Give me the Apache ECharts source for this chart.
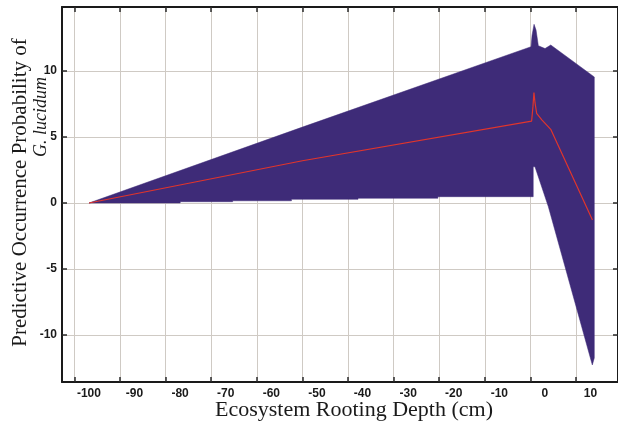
<!DOCTYPE html>
<html><head><meta charset="utf-8">
<script src="https://cdn.jsdelivr.net/npm/echarts@6/dist/echarts.min.js"></script>
<style>html,body{margin:0;padding:0;background:#fff}#c{width:618px;height:428px}</style>
</head><body><div id="c"></div>
<script>
// Tick labels
const xTicks = [-100, -90, -80, -70, -60, -50, -40, -30, -20, -10, 0, 10];
const yTicks = [-10, -5, 0, 5, 10];

// Upper boundary of the prediction band (left to right)
const upperX = [-96.8, -50.0, 0.13, 0.35, 0.79, 1.23, 1.73, 3.2, 4.45, 14.0];
const upperY = [0, 5.75, 11.84, 12.7, 13.54, 13.1, 11.92, 11.7, 11.97, 9.55];

// Lower boundary of the prediction band (right to left)
const lowerX = [14.0, 13.57, 3.93, 0.99, 0.61, 0.61, -20.3, -20.3, -37.8, -37.8, -52.4, -52.4, -65.3, -65.3, -76.8, -76.8, -96.8];
const lowerY = [-11.74, -12.27, -0.28, 2.75, 2.75, 0.48, 0.48, 0.36, 0.36, 0.28, 0.28, 0.17, 0.17, 0.1, 0.1, 0, 0];

// Mean predicted occurrence (red line)
const meanX = [-96.8, -50.0, 0.26, 0.55, 0.77, 1.0, 1.36, 2.5, 4.45, 13.6];
const meanY = [0, 3.2, 6.21, 7.3, 8.36, 7.6, 6.8, 6.3, 5.58, -1.29];

const X_MIN = -102.72, X_MAX = 19.2, Y_MIN = -13.56, Y_MAX = 14.85;

const bandPts = upperX.map((x, i) => [x, upperY[i]]).concat(lowerX.map((x, i) => [x, lowerY[i]]));
const meanPts = meanX.map((x, i) => [x, meanY[i]]);

const frame = { color: '#1a1a1a', width: 2 };
const tickStyle = { color: '#2a2a2a', width: 1.5 };
const gridStyle = { color: '#cfcac4', width: 1 };

const chart = echarts.init(document.getElementById('c'), null, { renderer: 'canvas' });
chart.setOption({
  animation: false,
  backgroundColor: '#ffffff',
  grid: { left: 62, right: 0, top: 7, bottom: 46, containLabel: false },
  xAxis: [{
    type: 'value', min: X_MIN, max: X_MAX, position: 'bottom',
    axisLine: { show: true, onZero: false, lineStyle: frame },
    axisTick: { show: true, inside: true, length: 5, customValues: xTicks, lineStyle: tickStyle },
    axisLabel: { customValues: xTicks, color: '#1a1a1a', fontFamily: 'Liberation Sans', fontWeight: 'bold', fontSize: 12, margin: 6, padding: [0, 0, 0, 29] },
    splitLine: { show: true, lineStyle: gridStyle },
    name: 'Ecosystem Rooting Depth (cm)', nameLocation: 'middle', nameGap: 17, nameMoveOverlap: false,
    nameTextStyle: { fontFamily: 'Liberation Serif', fontSize: 22, color: '#1a1a1a', padding: [0, 0, 0, 28] }
  }, {
    type: 'value', min: X_MIN, max: X_MAX, position: 'top',
    axisLine: { show: true, onZero: false, lineStyle: frame },
    axisTick: { show: true, inside: true, length: 5, customValues: xTicks, lineStyle: tickStyle },
    axisLabel: { show: false }, splitLine: { show: false }
  }],
  yAxis: [{
    type: 'value', min: Y_MIN, max: Y_MAX, position: 'left',
    axisLine: { show: true, onZero: false, lineStyle: frame },
    axisTick: { show: true, inside: true, length: 5, customValues: yTicks, lineStyle: tickStyle },
    axisLabel: { customValues: yTicks, color: '#1a1a1a', fontFamily: 'Liberation Sans', fontWeight: 'bold', fontSize: 12, margin: 5 },
    splitLine: { show: true, lineStyle: gridStyle },
    name: 'Predictive Occurrence Probability of', nameLocation: 'middle', nameGap: 31, nameMoveOverlap: false,
    nameTextStyle: { fontFamily: 'Liberation Serif', fontSize: 21, color: '#1a1a1a', padding: [0, 0, 0, 4] }
  }, {
    type: 'value', min: Y_MIN, max: Y_MAX, position: 'right',
    axisLine: { show: true, onZero: false, lineStyle: frame },
    axisTick: { show: true, inside: true, length: 5, customValues: yTicks, lineStyle: tickStyle },
    axisLabel: { show: false }, splitLine: { show: false }
  }, {
    type: 'value', min: Y_MIN, max: Y_MAX, position: 'left', offset: 0,
    axisLine: { show: false }, axisTick: { show: false }, axisLabel: { show: false }, splitLine: { show: false },
    name: 'G. lucidum', nameLocation: 'middle', nameGap: 12, nameMoveOverlap: false,
    nameTextStyle: { fontFamily: 'Liberation Serif', fontStyle: 'italic', fontSize: 18, color: '#1a1a1a', padding: [0, 0, 0, 155] }
  }],
  series: [{
    type: 'custom',
    xAxisIndex: 0, yAxisIndex: 0,
    clip: true,
    data: [[upperX[0], upperY[0]]],
    renderItem: function (params, api) {
      return {
        type: 'polygon',
        shape: { points: bandPts.map(p => api.coord(p)) },
        style: { fill: '#3e2b78', stroke: '#3e2b78', lineWidth: 0.5 }
      };
    },
    z: 2
  }, {
    type: 'line',
    xAxisIndex: 0, yAxisIndex: 0,
    data: meanPts,
    showSymbol: false, symbol: 'none',
    lineStyle: { color: '#e0352c', width: 1.2 },
    z: 3
  }]
});
</script>
</body></html>
